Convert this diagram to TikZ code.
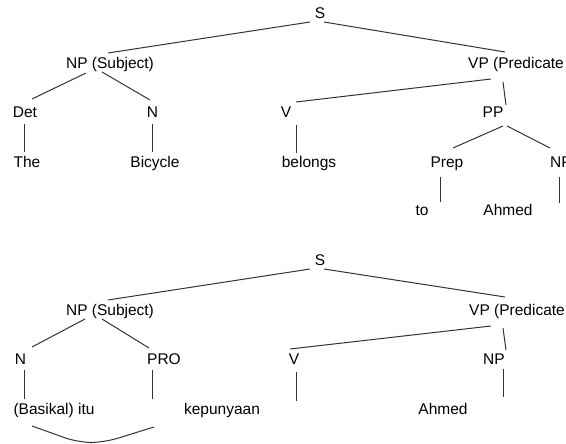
\documentclass[tikz,border=0pt]{standalone}
\usepackage{fontspec}
\setmainfont{Liberation Sans}
\begin{document}
\begin{tikzpicture}[x=1pt,y=-1pt,
  lbl/.style={inner sep=0pt,anchor=base,font=\fontsize{15.5}{18}\selectfont,text=black},
  lblw/.style={lbl,anchor=base west},
  edge/.style={line width=1pt,draw=black!80}]
\clip (0,0) rectangle (566,444);
% ---------- top tree ----------
\node[lbl]  (s1)      at (320,19)    {S};
\node[lbl]  (np1)     at (110,68.5)  {NP (Subject)};
\node[lblw] (vp1)     at (468,68.5)  {VP (Predicate};
\node[lbl]  (det)     at (25,117.5)  {Det};
\node[lbl]  (n1)      at (152.5,117.5) {N};
\node[lbl]  (v1)      at (286,117.5) {V};
\node[lbl]  (pp)      at (493,117.5) {PP};
\node[lbl]  (the)     at (27,167.5)  {The};
\node[lbl]  (bicycle) at (155,167.5) {Bicycle};
\node[lbl]  (belongs) at (309,167.5) {belongs};
\node[lbl]  (prep)    at (447,167.5) {Prep};
\node[lblw] (np2)     at (550,167.5) {NP};
\node[lbl]  (to)      at (422,215.5) {to};
\node[lbl]  (ahmed1)  at (508,215.5) {Ahmed};
\coordinate (np2end) at (559,203);

\draw[edge] ([shift={(-10,3)}]s1.base) -- ([shift={(-2,-15.5)}]np1.base);
\draw[edge] ([shift={(4,3)}]s1.base) -- ([shift={(37,-16.5)}]vp1.base west);
\draw[edge] ([shift={(-24,4.5)}]np1.base) -- ([shift={(7,-18.5)}]det.base);
\draw[edge] ([shift={(-8,3.5)}]np1.base) -- ([shift={(-2.5,-17.5)}]n1.base);
\draw[edge] ([shift={(23,10.5)}]vp1.base west) -- ([shift={(10,-15.5)}]v1.base);
\draw[edge] ([shift={(35,13.5)}]vp1.base west) -- ([shift={(13,-12.5)}]pp.base);
\draw[edge] ([shift={(-1,6.5)}]det.base) -- ([shift={(-3,-15.5)}]the.base);
\draw[edge] ([shift={(-0.5,6.5)}]n1.base) -- ([shift={(-3,-15.5)}]bicycle.base);
\draw[edge] ([shift={(10,7.5)}]v1.base) -- ([shift={(-13,-14.5)}]belongs.base);
\draw[edge] ([shift={(10,8.5)}]pp.base) -- ([shift={(6,-19.5)}]prep.base);
\draw[edge] ([shift={(14,8.5)}]pp.base) -- ([shift={(0,-19.5)}]np2.base west);
\draw[edge] ([shift={(-7,9.5)}]prep.base) -- ([shift={(18,-13.5)}]to.base);
\draw[edge] ([shift={(9,9.5)}]np2.base west) -- (np2end);

% ---------- bottom tree ----------
\node[lbl]  (s2)      at (320,265.5) {S};
\node[lbl]  (np3)     at (110,315.5) {NP (Subject)};
\node[lblw] (vp2)     at (469,315.5) {VP (Predicate};
\node[lbl]  (n2)      at (20.5,364.5) {N};
\node[lbl]  (pro)     at (164,364.5) {PRO};
\node[lbl]  (v2)      at (294,364.5) {V};
\node[lbl]  (np4)     at (494,364.5) {NP};
\node[lbl]  (basikal) at (54,414.5)  {(Basikal) itu};
\node[lbl]  (kepunyaan) at (222,414.5) {kepunyaan};
\node[lbl]  (ahmed2)  at (443,414.5) {Ahmed};
\coordinate (proend)   at (152,399);
\coordinate (v2end)    at (296,401);
\coordinate (np4end)   at (503,397);
\coordinate (curveend) at (154,427);

\draw[edge] ([shift={(-10,3.5)}]s2.base) -- ([shift={(-2,-15.5)}]np3.base);
\draw[edge] ([shift={(4,3.5)}]s2.base) -- ([shift={(36,-18.5)}]vp2.base west);
\draw[edge] ([shift={(-25,3.5)}]np3.base) -- ([shift={(11.5,-17.5)}]n2.base);
\draw[edge] ([shift={(-8,3.5)}]np3.base) -- ([shift={(-15,-16.5)}]pro.base);
\draw[edge] ([shift={(22,10.5)}]vp2.base west) -- ([shift={(-4,-15.5)}]v2.base);
\draw[edge] ([shift={(34,12.5)}]vp2.base west) -- ([shift={(12,-14.5)}]np4.base);
\draw[edge] ([shift={(3.5,5.5)}]n2.base) -- ([shift={(-30,-15.5)}]basikal.base);
\draw[edge] ([shift={(-12,5.5)}]pro.base) -- (proend);
\draw[edge] ([shift={(2,7.5)}]v2.base) -- (v2end);
\draw[edge] ([shift={(9,4.5)}]np4.base) -- (np4end);
\draw[edge,rounded corners=14pt] ([shift={(-22,11.5)}]basikal.base) -- (78,442.5) -- (104,442.5) -- (curveend);
\end{tikzpicture}
\end{document}
